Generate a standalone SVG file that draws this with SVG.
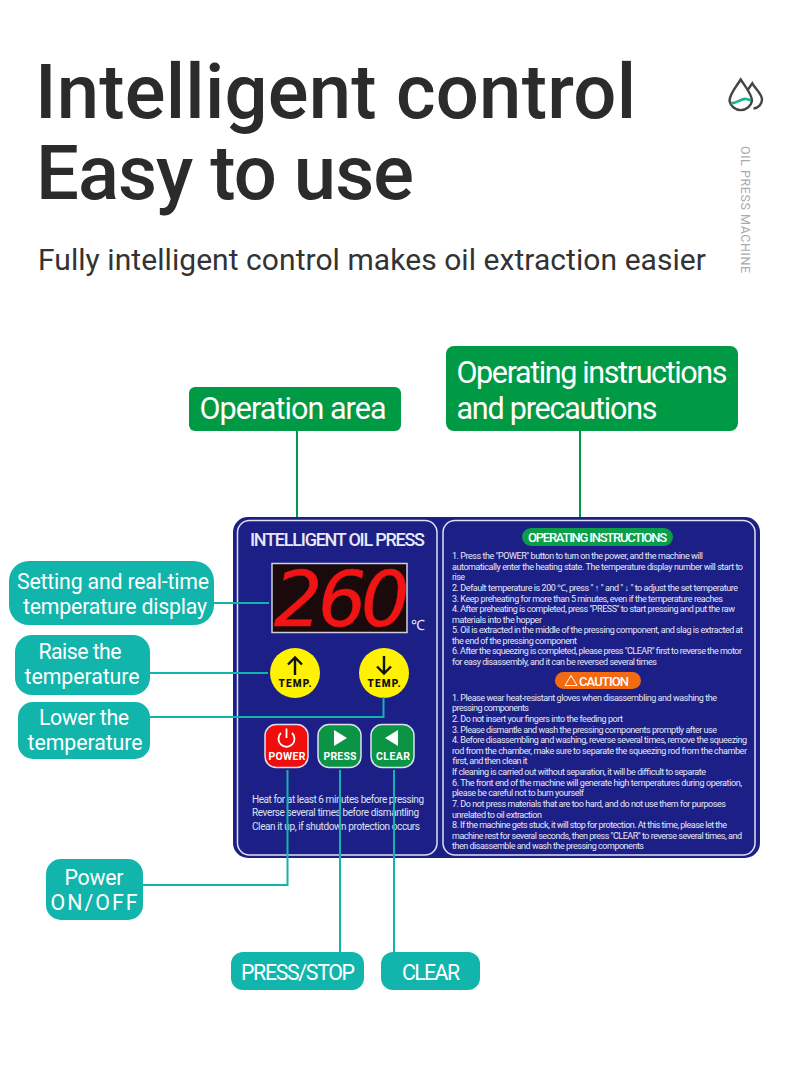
<svg xmlns="http://www.w3.org/2000/svg" width="790" height="1073" viewBox="0 0 790 1073">
<style>
text{font-family:Roboto,"Liberation Sans",sans-serif}
.t{font-weight:500;font-size:76px;fill:#2b2b2b}
.lab{font-size:21.300px;fill:#fff;text-anchor:middle}
.big{font-size:30.500px}
.teal{fill:#12b5ab}
.green{fill:#009a44}
.conT{fill:none;stroke:#12b5ab;stroke-width:2}
.conG{fill:none;stroke:#009a44;stroke-width:2}
.in{fill:none;stroke:#dfe0f2;stroke-width:1.5}
.s{font-size:9px;fill:#e6e7f6}
.h{font-size:10px;fill:#dfe0f2}
.btn{stroke:#dfe0f2;stroke-width:1.5}
.bt{font-size:10.5px;font-weight:700;fill:#fff;text-anchor:middle}
.tt{font-size:10px;font-weight:900;fill:#111;text-anchor:middle}
.arr{fill:none;stroke:#111;stroke-width:2.4}
</style>
<rect width="790" height="1073" fill="#fff"/>
<g id="heading">
<text class="t" x="35" y="118" textLength="601">Intelligent control</text>
<text class="t" x="36" y="199" textLength="378">Easy to use</text>
<text x="38" y="270" font-size="30" fill="#333" textLength="668">Fully intelligent control makes oil extraction easier</text>
</g>
<g id="brand">
<path d="M740.7 79.500C736 87 729.500 94 729.500 101A11.500 11.500 0 0 0 752 101C752 94 745.500 87 740.700 79.500Z" fill="none" stroke="#444" stroke-width="2.400"/>
<path d="M748 89.500L752.300 83.300C755.500 89 762 94 762 99.500A9 9 0 0 1 753.500 108.500" fill="none" stroke="#444" stroke-width="2.400"/>
<path d="M731 103C737 104 741 98 746 99C748 99 749.500 100 751 100.500" fill="none" stroke="#12b58f" stroke-width="2.600"/>
<text transform="translate(740.500 146) rotate(90)" font-size="12.500" fill="#aaa" textLength="127">OIL PRESS MACHINE</text>
</g>
<g id="panel">
<rect x="233" y="517" width="527" height="341" rx="15" fill="#1c2086"/>
<rect class="in" x="237.500" y="520.500" width="199.500" height="334.500" rx="12"/>
<rect class="in" x="443" y="520.500" width="312" height="334.500" rx="12"/>
<text x="250" y="546" font-size="18" font-weight="500" fill="#e8e9f7" textLength="175">INTELLIGENT OIL PRESS</text>
</g>
<g id="display">
<rect x="272" y="563.500" width="135" height="69" fill="#1a0a0c" stroke="#d0d0dc" stroke-width="1.500"/>
<text x="274 318 361" y="626" style="font-family:'DejaVu Sans',sans-serif" font-size="76" font-style="italic" fill="#f01414" stroke="#f01414" stroke-width="0.600">260</text>
<text x="411" y="630" font-size="14" fill="#e8e9f7" textLength="13">℃</text>
</g>
<g id="btn-raise">
<circle cx="295" cy="673" r="25" fill="#fff200"/>
<path class="arr" d="M295 675V657.500M288 664.500L295 657.500L302 664.500"/>
<text class="tt" x="295" y="687" textLength="33">TEMP.</text>
</g>
<g id="btn-lower">
<circle cx="384" cy="673" r="25" fill="#fff200"/>
<path class="arr" d="M384 656V673.500M377 666.500L384 673.500L391 666.500"/>
<text class="tt" x="384" y="687" textLength="33">TEMP.</text>
</g>
<g id="btn-power">
<rect class="btn" x="265" y="724.500" width="43" height="43" rx="11" fill="#f20d0d"/>
<path d="M281 733A8 8 0 1 0 292 733M286.500 728.500V738" fill="none" stroke="#fff" stroke-width="1.800"/>
<text class="bt" x="287" y="759.500" textLength="37">POWER</text>
</g>
<g id="btn-press">
<rect class="btn" x="318" y="724.500" width="43" height="43" rx="11" fill="#0b9444"/>
<path d="M334 730L347 738L334 746Z" fill="#fff"/>
<text class="bt" x="340" y="759.500" textLength="33">PRESS</text>
</g>
<g id="btn-clear">
<rect class="btn" x="371" y="724.500" width="43" height="43" rx="11" fill="#0b9444"/>
<path d="M398 730L385 738L398 746Z" fill="#fff"/>
<text class="bt" x="393" y="759.500" textLength="34">CLEAR</text>
</g>
<g id="hints">
<text class="h" x="252" y="803" textLength="172">Heat for at least 6 minutes before pressing</text>
<text class="h" x="252" y="816" textLength="167">Reverse several times before dismantling</text>
<text class="h" x="252" y="830" textLength="168">Clean it up, if shutdown protection occurs</text>
</g>
<g id="instructions">
<rect x="522" y="528" width="151" height="18" rx="9" fill="#0b9e4a"/>
<text x="528" y="542" font-size="13" font-weight="500" fill="#fff" textLength="139">OPERATING INSTRUCTIONS</text>
<text class="s" x="452" y="559" textLength="251">1. Press the "POWER" button to turn on the power, and the machine will</text>
<text class="s" x="452" y="570" textLength="291">automatically enter the heating state. The temperature display number will start to</text>
<text class="s" x="452" y="580" textLength="13">rise</text>
<text class="s" x="452" y="591" textLength="286">2. Default temperature is 200 ℃, press " ↑ " and " ↓ " to adjust the set temperature</text>
<text class="s" x="452" y="601.500" textLength="271">3. Keep preheating for more than 5 minutes, even if the temperature reaches</text>
<text class="s" x="452" y="612" textLength="283">4. After preheating is completed, press "PRESS" to start pressing and put the raw</text>
<text class="s" x="452" y="622.500" textLength="90">materials into the hopper</text>
<text class="s" x="452" y="633" textLength="291">5. Oil is extracted in the middle of the pressing component, and slag is extracted at</text>
<text class="s" x="452" y="643.500" textLength="125">the end of the pressing component</text>
<text class="s" x="452" y="654" textLength="290">6. After the squeezing is completed, please press "CLEAR" first to reverse the motor</text>
<text class="s" x="452" y="664.500" textLength="205">for easy disassembly, and it can be reversed several times</text>
</g>
<g id="caution">
<rect x="555" y="672" width="86" height="17" rx="8.500" fill="#f26a12"/>
<path d="M565 685.500L571 675.500L577 685.500Z" fill="none" stroke="#fff" stroke-width="1"/>
<text x="579" y="685.500" font-size="13" font-weight="500" fill="#fff" textLength="50">CAUTION</text>
<text class="s" x="452" y="700.500" textLength="265">1. Please wear heat-resistant gloves when disassembling and washing the</text>
<text class="s" x="452" y="711" textLength="77">pressing components</text>
<text class="s" x="452" y="722" textLength="171">2. Do not insert your fingers into the feeding port</text>
<text class="s" x="452" y="732.500" textLength="265">3. Please dismantle and wash the pressing components promptly after use</text>
<text class="s" x="452" y="743" textLength="295">4. Before disassembling and washing, reverse several times, remove the squeezing</text>
<text class="s" x="452" y="753.500" textLength="295">rod from the chamber, make sure to separate the squeezing rod from the chamber</text>
<text class="s" x="452" y="764" textLength="75">first, and then clean it</text>
<text class="s" x="452" y="775" textLength="254">If cleaning is carried out without separation, it will be difficult to separate</text>
<text class="s" x="452" y="785.500" textLength="290">6. The front end of the machine will generate high temperatures during operation,</text>
<text class="s" x="452" y="796" textLength="132">please be careful not to burn yourself</text>
<text class="s" x="452" y="807" textLength="274">7. Do not press materials that are too hard, and do not use them for purposes</text>
<text class="s" x="452" y="817.500" textLength="90">unrelated to oil extraction</text>
<text class="s" x="452" y="828" textLength="275">8. If the machine gets stuck, it will stop for protection. At this time, please let the</text>
<text class="s" x="452" y="838.500" textLength="290">machine rest for several seconds, then press "CLEAR" to reverse several times, and</text>
<text class="s" x="452" y="849" textLength="192">then disassemble and wash the pressing components</text>
</g>
<g id="connectors">
<path class="conG" d="M297 431V517M580 431V517"/>
<path class="conT" d="M213 603H269M150 673H268M150 717H383.500V697M143 885H287.500V770M340 770V952M394 770V952"/>
</g>
<g id="label-operation-area">
<rect class="green" x="189" y="387" width="212" height="44" rx="6"/>
<text class="lab big" x="293" y="419" textLength="187">Operation area</text>
</g>
<g id="label-instructions">
<rect class="green" x="446" y="346" width="292" height="85" rx="8"/>
<text class="lab big" x="592" y="383" textLength="271">Operating instructions</text>
<text class="lab big" x="557" y="419" textLength="201">and precautions</text>
</g>
<g id="label-display">
<rect class="teal" x="9" y="561" width="205" height="64" rx="20"/>
<text class="lab" x="113" y="589" textLength="192">Setting and real-time</text>
<text class="lab" x="115" y="614" textLength="184">temperature display</text>
</g>
<g id="label-raise">
<rect class="teal" x="15" y="635" width="135" height="60" rx="17"/>
<text class="lab" x="80" y="659" textLength="83">Raise the</text>
<text class="lab" x="82" y="684" textLength="115">temperature</text>
</g>
<g id="label-lower">
<rect class="teal" x="18" y="702" width="132" height="57" rx="15"/>
<text class="lab" x="84" y="725" textLength="90">Lower the</text>
<text class="lab" x="85" y="750" textLength="115">temperature</text>
</g>
<g id="label-power">
<rect class="teal" x="46" y="859" width="97" height="61" rx="15"/>
<text class="lab" x="94" y="885" textLength="59">Power</text>
<text class="lab" x="94" y="910" textLength="87">ON/OFF</text>
</g>
<g id="label-press">
<rect class="teal" x="231" y="952" width="133" height="38" rx="12"/>
<text class="lab" x="298" y="980" textLength="114">PRESS/STOP</text>
</g>
<g id="label-clear">
<rect class="teal" x="381" y="952" width="99" height="38" rx="12"/>
<text class="lab" x="431" y="980" textLength="58">CLEAR</text>
</g>
</svg>
